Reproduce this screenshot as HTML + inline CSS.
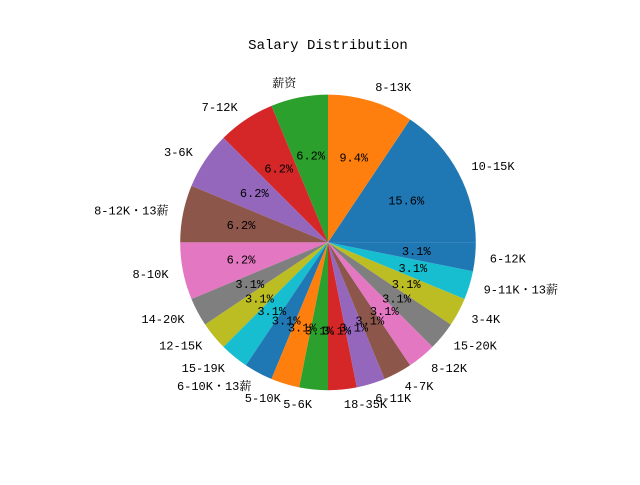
<!DOCTYPE html>
<html><head><meta charset="utf-8"><style>
html,body{margin:0;padding:0;background:#fff;}
svg text{font-family:"Liberation Mono","Noto Serif CJK SC",monospace;fill:#000;}
</style></head><body>
<svg id="chart" width="640" height="480" viewBox="0 0 640 480" xmlns="http://www.w3.org/2000/svg">
<rect width="640" height="480" fill="#fff"/>
<text x="328" y="49" text-anchor="middle" font-size="14">Salary Distribution</text>
<g id="slices"></g>
<g id="labels"></g>
</svg>
<script>
const categories = ["10-15K","8-13K","薪资","7-12K","3-6K","8-12K・13薪","8-10K","14-20K","12-15K","15-19K","6-10K・13薪","5-10K","5-6K","18-35K","6-11K","4-7K","8-12K","15-20K","3-4K","9-11K・13薪","6-12K"];
const counts = [5,3,2,2,2,2,2,1,1,1,1,1,1,1,1,1,1,1,1,1,1];
const palette = ["#1f77b4","#ff7f0e","#2ca02c","#d62728","#9467bd","#8c564b","#e377c2","#7f7f7f","#bcbd22","#17becf"];
const cx=328, cy=242.4, R=147.8;
const NS="http://www.w3.org/2000/svg";
const gS=document.getElementById('slices'), gL=document.getElementById('labels');
const total=counts.reduce((a,b)=>a+b,0);
function fmt(p){
  const x=p*10, f=Math.floor(x), d=x-f;
  let r;
  if(Math.abs(d-0.5)<1e-9) r=(f%2===0)?f:f+1; else r=Math.round(x);
  return (r/10).toFixed(1)+'%';
}
let ang=0;
function pt(a,r){return [cx+r*Math.cos(a), cy-r*Math.sin(a)];}
counts.forEach((v,i)=>{
  const frac=v/total, a0=ang, a1=ang+frac*2*Math.PI; ang=a1;
  const p0=pt(a0,R), p1=pt(a1,R);
  const large=(a1-a0)>Math.PI?1:0;
  const path=document.createElementNS(NS,'path');
  path.setAttribute('d',`M${cx},${cy} L${p0[0]},${p0[1]} A${R},${R} 0 ${large} 0 ${p1[0]},${p1[1]} Z`);
  path.setAttribute('fill',palette[i%10]);
  
  
  gS.appendChild(path);
  const am=(a0+a1)/2;
  const lp=pt(am,R*1.1);
  const t=document.createElementNS(NS,'text');
  t.setAttribute('x',lp[0]); t.setAttribute('y',lp[1]+4);
  t.setAttribute('font-size','12');
  t.setAttribute('text-anchor',Math.cos(am)>=0?'start':'end');
  t.textContent=categories[i];
  
  
  gL.appendChild(t);
  const pp=pt(am,R*0.6);
  const t2=document.createElementNS(NS,'text');
  t2.setAttribute('x',pp[0]); t2.setAttribute('y',pp[1]+4);
  t2.setAttribute('font-size','12');
  t2.setAttribute('text-anchor','middle');
  t2.textContent=fmt(frac*100);
  
  
  gL.appendChild(t2);
});
</script>
</body></html>
